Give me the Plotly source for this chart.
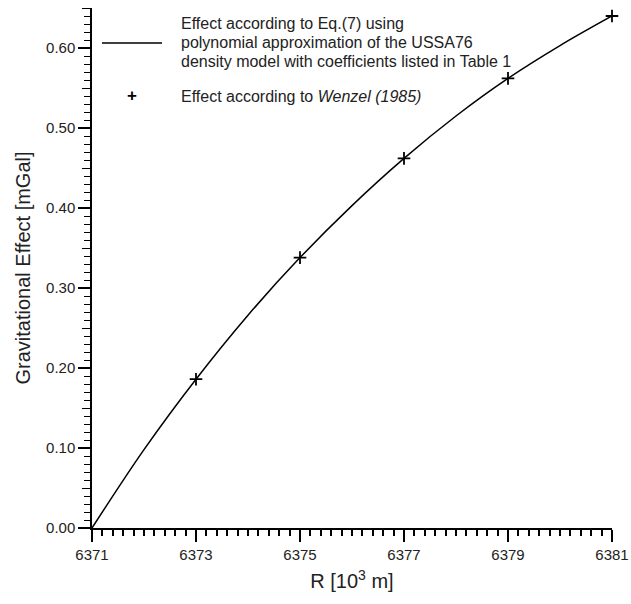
import plotly.graph_objects as go

# Curve: effect according to Eq.(7)
curve_r = [6371, 6372, 6373, 6374, 6375, 6376, 6377, 6378, 6379, 6380, 6381]
curve_g = [0.000, 0.098, 0.186, 0.266, 0.338, 0.403, 0.462, 0.515, 0.562, 0.603, 0.640]

# Points: effect according to Wenzel (1985)
wenzel_r = [6373, 6375, 6377, 6379, 6381]
wenzel_g = [0.186, 0.338, 0.462, 0.562, 0.640]

x_ticks = [6371, 6373, 6375, 6377, 6379, 6381]
y_ticks = [0.0, 0.1, 0.2, 0.3, 0.4, 0.5, 0.6]
y_tick_labels = ["0.00", "0.10", "0.20", "0.30", "0.40", "0.50", "0.60"]

legend_line_text = ["Effect according to Eq.(7) using",
                    "polynomial approximation of the USSA76",
                    "density model with coefficients listed in Table 1"]
legend_point_text = "Effect according to <i>Wenzel (1985)</i>"

FONT = "Liberation Sans, Arial, sans-serif"
TXT = "#222222"

fig = go.Figure()
fig.add_trace(go.Scatter(x=curve_r, y=curve_g, mode="lines",
                         line=dict(color="black", width=1.5, shape="spline"),
                         showlegend=False))
fig.add_trace(go.Scatter(x=wenzel_r, y=wenzel_g, mode="markers",
                         marker=dict(symbol="cross-thin", size=9,
                                     line=dict(color="black", width=1.8)),
                         showlegend=False, cliponaxis=False))
# invisible trace on the overlay axis for medium y ticks
fig.add_trace(go.Scatter(x=[6371], y=[0], yaxis="y2", mode="markers",
                         marker=dict(opacity=0), showlegend=False, hoverinfo="skip"))

W, H = 631, 604
L, R, T, B = 92, 19, 8, 76
pw, ph = W - L - R, H - T - B

def px(xp):
    return (xp - L) / pw

def py(yp):
    return (H - B - yp) / ph

fig.update_layout(
    width=W, height=H,
    margin=dict(l=L, r=R, t=T, b=B, autoexpand=False),
    paper_bgcolor="white", plot_bgcolor="white",
    font=dict(family=FONT, color=TXT),
    xaxis=dict(range=[6371, 6381], tickvals=x_ticks, ticks="outside", automargin=False,
               ticklen=12, tickwidth=2, tickcolor="black",
               showline=True, linecolor="black", linewidth=2,
               showgrid=False, zeroline=False,
               tickfont=dict(size=15, family=FONT, color=TXT),
               minor=dict(dtick=0.2, tick0=6371, ticks="outside", ticklen=6,
                          tickwidth=1.5, tickcolor="black", showgrid=False),
               title=dict(text="R [10<sup>3</sup> m]", font=dict(size=20, family=FONT, color=TXT),
                          standoff=12)),
    yaxis=dict(range=[0, 0.65], tickvals=y_ticks, ticktext=y_tick_labels, automargin=False,
               ticks="outside", ticklen=12, tickwidth=1.5, tickcolor="black",
               showline=True, linecolor="black", linewidth=1.5,
               showgrid=False, zeroline=False,
               tickfont=dict(size=15, family=FONT, color=TXT),
               minor=dict(dtick=0.01, tick0=0, ticks="outside", ticklen=6,
                          tickwidth=1.3, tickcolor="black", showgrid=False),
               title=dict(text="Gravitational Effect [mGal]",
                          font=dict(size=20, family=FONT, color=TXT), standoff=10)),
    yaxis2=dict(range=[0, 0.65], overlaying="y", side="left", dtick=0.05, tick0=0,
                automargin=False,
                ticks="outside", ticklen=9, tickwidth=1.3, tickcolor="black",
                showticklabels=False, showgrid=False, zeroline=False, showline=False),
)

fig.add_shape(type="line", xref="paper", yref="paper",
              x0=px(102), x1=px(162), y0=py(43), y1=py(43),
              line=dict(color="black", width=1.5))
for i, t in enumerate(legend_line_text):
    fig.add_annotation(xref="paper", yref="paper", x=px(179), y=py(23 + 19.5 * i),
                       text=t, showarrow=False, xanchor="left", yanchor="middle",
                       font=dict(size=16, family=FONT, color=TXT))
fig.add_annotation(xref="paper", yref="paper", x=px(179), y=py(97),
                   text=legend_point_text, showarrow=False, xanchor="left", yanchor="middle",
                   font=dict(size=16, family=FONT, color=TXT))
fig.add_annotation(xref="paper", yref="paper", x=px(132), y=py(96),
                   text="<b>+</b>", showarrow=False, xanchor="center", yanchor="middle",
                   font=dict(size=17, family=FONT, color="black"))

fig.write_html("out.html")
